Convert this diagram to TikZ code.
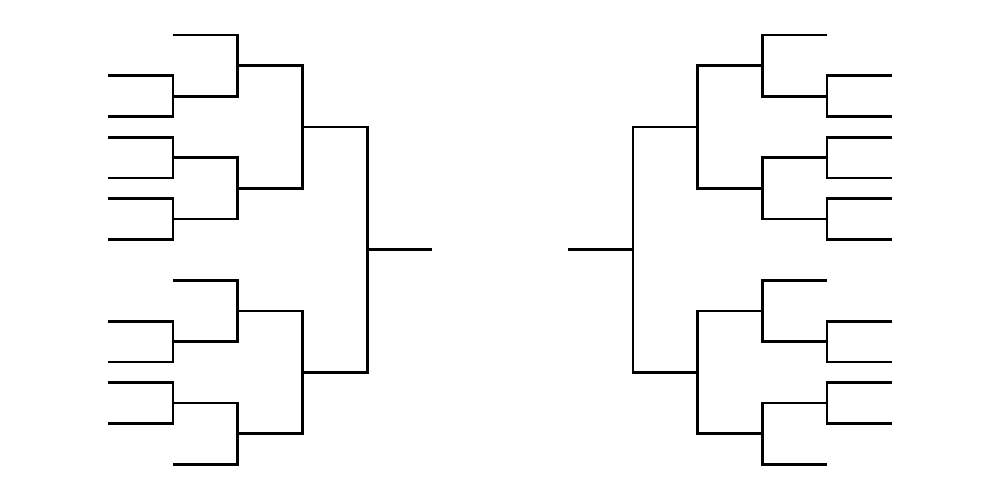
\documentclass[tikz,border=0pt]{standalone}
\usepackage{tikz}

\begin{document}
\begin{tikzpicture}[bracket/.style={line width=0.8pt, line cap=butt, line join=miter}]
    % page frame, 1000 x 500
    \useasboundingbox (0,0) rectangle (10,-5);

    % two mirrored halves: rounds go left to right, rows go down
    \foreach \sx/\ox in {1/1.083, -1/8.917} {
      \begin{scope}[shift={(\ox,-0.35)}, x=0.647cm, y=-0.2044cm, xscale=\sx]
        % each match: two entries joined at the next round
        \foreach \r/\a/\b in {0/2/4, 0/5/7, 0/8/10, 0/14/16, 0/17/19,
                              1/0/3, 1/6/9, 1/12/15, 1/18/21,
                              2/1.5/7.5, 2/13.5/19.5,
                              3/4.5/16.5}
          \draw[bracket] (\r,\a) -| (\r+1,\b) -- (\r,\b);
        % line to the final
        \draw[bracket] (4,10.5) -- (5,10.5);
      \end{scope}
    }
\end{tikzpicture}
\end{document}
